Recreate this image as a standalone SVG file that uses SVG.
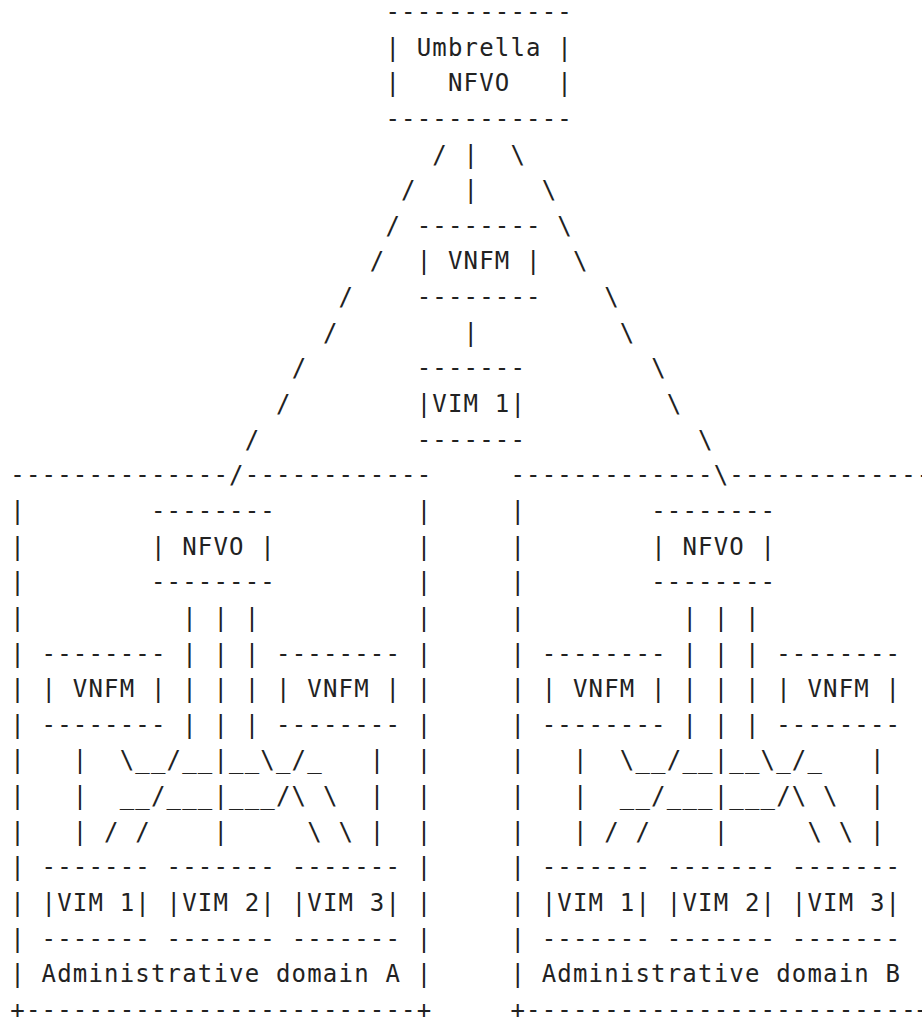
<svg xmlns="http://www.w3.org/2000/svg" width="922" height="1017" viewBox="0 0 922 1017" xml:space="preserve">
<style>
text { font-family: "DejaVu Sans Mono", monospace; font-size: 24px; letter-spacing: 1.18px; fill: #222; white-space: pre; }
</style>
<rect width="922" height="1017" fill="#fff"/>

<!-- character grid: column c at x = 10.3 + 15.63*c, row r baseline at y = 20 + 35.64*(r-1) -->

<g id="umbrella-nfvo">
<text x="385.42" y="20">------------</text>
<text x="385.42" y="55.64">| Umbrella |</text>
<text x="385.42" y="91.28">|   NFVO   |</text>
<text x="385.42" y="126.92">------------</text>
</g>

<g id="vnfm-top">
<text x="416.68" y="233.84">--------</text>
<text x="416.68" y="269.48">| VNFM |</text>
<text x="416.68" y="305.12">--------</text>
</g>

<g id="vim1-top">
<text x="416.68" y="376.4">-------</text>
<text x="416.68" y="412.04">|VIM 1|</text>
<text x="416.68" y="447.68">-------</text>
</g>

<!-- administrative domain A -->
<g id="domain-a">
<g id="domain-a-frame">
<text x="10.3" y="483.32">--------------</text>
<text x="244.75" y="483.32">------------</text>
<text x="10.3" y="518.96">|</text><text x="416.68" y="518.96">|</text>
<text x="10.3" y="554.6">|</text><text x="416.68" y="554.6">|</text>
<text x="10.3" y="590.24">|</text><text x="416.68" y="590.24">|</text>
<text x="10.3" y="625.88">|</text><text x="416.68" y="625.88">|</text>
<text x="10.3" y="661.52">|</text><text x="416.68" y="661.52">|</text>
<text x="10.3" y="697.16">|</text><text x="416.68" y="697.16">|</text>
<text x="10.3" y="732.8">|</text><text x="416.68" y="732.8">|</text>
<text x="10.3" y="768.44">|</text><text x="416.68" y="768.44">|</text>
<text x="10.3" y="804.08">|</text><text x="416.68" y="804.08">|</text>
<text x="10.3" y="839.72">|</text><text x="416.68" y="839.72">|</text>
<text x="10.3" y="875.36">|</text><text x="416.68" y="875.36">|</text>
<text x="10.3" y="911">|</text><text x="416.68" y="911">|</text>
<text x="10.3" y="946.64">|</text><text x="416.68" y="946.64">|</text>
<text x="10.3" y="982.28">|</text><text x="416.68" y="982.28">|</text>
<text x="41.56" y="982.28">Administrative domain A</text>
<text x="10.3" y="1017.92">+-------------------------+</text>
</g>
<g id="nfvo-a">
<text x="150.97" y="518.96">--------</text>
<text x="150.97" y="554.6">| NFVO |</text>
<text x="150.97" y="590.24">--------</text>
</g>
<g id="vnfm-a1">
<text x="41.56" y="661.52">--------</text>
<text x="41.56" y="697.16">| VNFM |</text>
<text x="41.56" y="732.8">--------</text>
</g>
<g id="vnfm-a2">
<text x="276.01" y="661.52">--------</text>
<text x="276.01" y="697.16">| VNFM |</text>
<text x="276.01" y="732.8">--------</text>
</g>
<g id="vim-a1">
<text x="41.56" y="875.36">-------</text>
<text x="41.56" y="911">|VIM 1|</text>
<text x="41.56" y="946.64">-------</text>
</g>
<g id="vim-a2">
<text x="166.6" y="875.36">-------</text>
<text x="166.6" y="911">|VIM 2|</text>
<text x="166.6" y="946.64">-------</text>
</g>
<g id="vim-a3">
<text x="291.64" y="875.36">-------</text>
<text x="291.64" y="911">|VIM 3|</text>
<text x="291.64" y="946.64">-------</text>
</g>
</g>

<!-- administrative domain B: same layout, shifted 32 columns right -->
<g id="domain-b" transform="translate(500.16 0)">
<g id="domain-b-frame">
<text x="10.3" y="483.32">-------------</text>
<text x="229.12" y="483.32">-------------</text>
<text x="10.3" y="518.96">|</text><text x="416.68" y="518.96">|</text>
<text x="10.3" y="554.6">|</text><text x="416.68" y="554.6">|</text>
<text x="10.3" y="590.24">|</text><text x="416.68" y="590.24">|</text>
<text x="10.3" y="625.88">|</text><text x="416.68" y="625.88">|</text>
<text x="10.3" y="661.52">|</text><text x="416.68" y="661.52">|</text>
<text x="10.3" y="697.16">|</text><text x="416.68" y="697.16">|</text>
<text x="10.3" y="732.8">|</text><text x="416.68" y="732.8">|</text>
<text x="10.3" y="768.44">|</text><text x="416.68" y="768.44">|</text>
<text x="10.3" y="804.08">|</text><text x="416.68" y="804.08">|</text>
<text x="10.3" y="839.72">|</text><text x="416.68" y="839.72">|</text>
<text x="10.3" y="875.36">|</text><text x="416.68" y="875.36">|</text>
<text x="10.3" y="911">|</text><text x="416.68" y="911">|</text>
<text x="10.3" y="946.64">|</text><text x="416.68" y="946.64">|</text>
<text x="10.3" y="982.28">|</text><text x="416.68" y="982.28">|</text>
<text x="41.56" y="982.28">Administrative domain B</text>
<text x="10.3" y="1017.92">+-------------------------+</text>
</g>
<g id="nfvo-b">
<text x="150.97" y="518.96">--------</text>
<text x="150.97" y="554.6">| NFVO |</text>
<text x="150.97" y="590.24">--------</text>
</g>
<g id="vnfm-b1">
<text x="41.56" y="661.52">--------</text>
<text x="41.56" y="697.16">| VNFM |</text>
<text x="41.56" y="732.8">--------</text>
</g>
<g id="vnfm-b2">
<text x="276.01" y="661.52">--------</text>
<text x="276.01" y="697.16">| VNFM |</text>
<text x="276.01" y="732.8">--------</text>
</g>
<g id="vim-b1">
<text x="41.56" y="875.36">-------</text>
<text x="41.56" y="911">|VIM 1|</text>
<text x="41.56" y="946.64">-------</text>
</g>
<g id="vim-b2">
<text x="166.6" y="875.36">-------</text>
<text x="166.6" y="911">|VIM 2|</text>
<text x="166.6" y="946.64">-------</text>
</g>
<g id="vim-b3">
<text x="291.64" y="875.36">-------</text>
<text x="291.64" y="911">|VIM 3|</text>
<text x="291.64" y="946.64">-------</text>
</g>
</g>

<g id="connectors">
<!-- umbrella NFVO fan-out to the VNFM, VIM 1 and both domains -->
<g id="links-top">
<text x="432.31" y="162.56">/</text><text x="463.57" y="162.56">|</text><text x="510.46" y="162.56">\</text>
<text x="401.05" y="198.2">/</text><text x="463.57" y="198.2">|</text><text x="541.72" y="198.2">\</text>
<text x="385.42" y="233.84">/</text><text x="557.35" y="233.84">\</text>
<text x="369.79" y="269.48">/</text><text x="572.98" y="269.48">\</text>
<text x="338.53" y="305.12">/</text><text x="604.24" y="305.12">\</text>
<text x="322.9" y="340.76">/</text><text x="463.57" y="340.76">|</text><text x="619.87" y="340.76">\</text>
<text x="291.64" y="376.4">/</text><text x="651.13" y="376.4">\</text>
<text x="276.01" y="412.04">/</text><text x="666.76" y="412.04">\</text>
<text x="244.75" y="447.68">/</text><text x="698.02" y="447.68">\</text>
<text x="229.12" y="483.32">/</text><text x="713.65" y="483.32">\</text>
</g>
<!-- NFVO / VNFM / VIM wiring inside domain A -->
<g id="links-a">
<text x="182.23" y="625.88">| | |</text>
<text x="182.23" y="661.52">| | |</text>
<text x="182.23" y="697.16">| | |</text>
<text x="182.23" y="732.8">| | |</text>
<text x="72.82" y="768.44">|  \__/__|__\_/_   |</text>
<text x="72.82" y="804.08">|  __/___|___/\ \  |</text>
<text x="72.82" y="839.72">| / /    |     \ \ |</text>
</g>
<!-- NFVO / VNFM / VIM wiring inside domain B -->
<g id="links-b" transform="translate(500.16 0)">
<text x="182.23" y="625.88">| | |</text>
<text x="182.23" y="661.52">| | |</text>
<text x="182.23" y="697.16">| | |</text>
<text x="182.23" y="732.8">| | |</text>
<text x="72.82" y="768.44">|  \__/__|__\_/_   |</text>
<text x="72.82" y="804.08">|  __/___|___/\ \  |</text>
<text x="72.82" y="839.72">| / /    |     \ \ |</text>
</g>
</g>
</svg>
